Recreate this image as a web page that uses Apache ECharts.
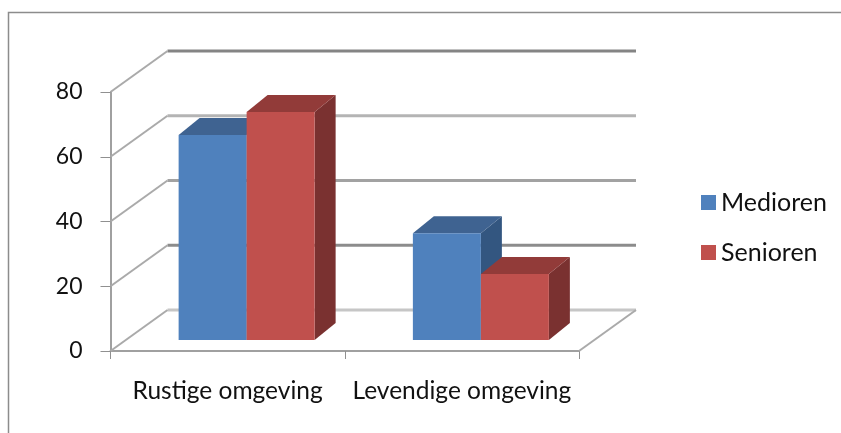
<!DOCTYPE html>
<html><head><meta charset="utf-8">
<style>html,body{margin:0;padding:0;background:#fff}#c{width:841px;height:433px}</style>
<script src="https://cdn.jsdelivr.net/npm/echarts@6/dist/echarts.min.js"></script>
</head><body><div id="c"></div>
<script>
const categories = ['Rustige omgeving', 'Levendige omgeving'];
const medioren = [63.3, 33];
const senioren = [70.4, 20.4];
const ticks = [0, 20, 40, 60, 80];
const wallColors = ['#c6c6c6', '#8c8c8c', '#a2a2a2', '#b4b4b4', '#848484'];

const FONT = 'Lato';
const DEPTH_X = 57, DEPTH_Y = 41;      // back wall offset
const BAR_W = 68, BAR_SHIFT = 19, BAR_LIFT = 11, SIDE_X = 21, SIDE_Y = 17;

function barSeries(name, values, order, front, top, side) {
  return {
    name, type: 'custom', coordinateSystem: 'cartesian2d', z: 3 + order,
    itemStyle: { color: front },
    encode: { x: 0, y: 1 },
    data: values.map((v, i) => [i, v]),
    renderItem(params, api) {
      const c = api.coord([api.value(0), api.value(1)]);
      const b = api.coord([api.value(0), 0]);
      const x0 = c[0] + BAR_SHIFT + (order - 1) * BAR_W;
      const x1 = x0 + BAR_W;
      const yt = c[1] - BAR_LIFT, yb = b[1] - BAR_LIFT;
      const poly = (points, fill) => ({ type: 'polygon', shape: { points }, style: { fill, stroke: null } });
      return { type: 'group', children: [
        poly([[x1, yt], [x1 + SIDE_X, yt - SIDE_Y], [x1 + SIDE_X, yb - SIDE_Y], [x1, yb]], side),
        poly([[x0, yt], [x0 + SIDE_X, yt - SIDE_Y], [x1 + SIDE_X, yt - SIDE_Y], [x1, yt]], top),
        poly([[x0, yt], [x1, yt], [x1, yb], [x0, yb]], front)
      ] };
    }
  };
}

const wallSeries = {
  name: 'wall', type: 'custom', coordinateSystem: 'cartesian2d', z: 1, silent: true,
  encode: { x: 0, y: 1 },
  data: ticks.map((t, i) => [0, t, i]),
  renderItem(params, api) {
    const g = params.coordSys;
    const y = api.coord([0, api.value(1)])[1];
    const col = wallColors[api.value(2)];
    const line = (x1, y1, x2, y2, stroke, lineWidth) => ({ type: 'line', shape: { x1, y1, x2, y2 }, style: { stroke, lineWidth } });
    const children = [
      line(g.x + DEPTH_X, y - DEPTH_Y, g.x + g.width + DEPTH_X, y - DEPTH_Y, col, 3),
      line(g.x, y, g.x + DEPTH_X, y - DEPTH_Y, '#aaaaaa', 2)
    ];
    if (api.value(1) === 0) {
      children.push(line(g.x + g.width, y, g.x + g.width + DEPTH_X, y - DEPTH_Y, '#aaaaaa', 2));
    }
    return { type: 'group', children };
  }
};

const chart = echarts.init(document.getElementById('c'), null, { renderer: 'canvas' });
chart.setOption({
  animation: false,
  backgroundColor: '#fff',
  textStyle: { fontFamily: FONT },
  grid: { left: 110.5, right: 262, top: 92, bottom: 82, containLabel: false },
  xAxis: {
    type: 'category', data: categories,
    axisLine: { show: true, lineStyle: { color: '#a0a0a0', width: 2 } },
    axisTick: { show: true, alignWithLabel: false, length: 8, lineStyle: { color: '#909090', width: 1 } },
    axisLabel: { color: '#111', fontFamily: FONT, fontSize: 24.5, margin: 28, interval: 0 },
    splitLine: { show: false }
  },
  yAxis: {
    type: 'value', min: 0, max: 80, interval: 20,
    axisLine: { show: true, lineStyle: { color: '#a0a0a0', width: 2 } },
    axisTick: { show: true, length: 10, lineStyle: { color: '#909090', width: 1 } },
    axisLabel: { color: '#111', fontFamily: FONT, fontSize: 23, margin: 28 },
    splitLine: { show: false }
  },
  legend: {
    orient: 'vertical', left: 696, top: 185, itemWidth: 15, itemHeight: 15, itemGap: 25,
    icon: 'rect', data: ['Medioren', 'Senioren'],
    textStyle: { color: '#111', fontFamily: FONT, fontSize: 25 }
  },
  graphic: [
    { type: 'polyline', z: 0, shape: { points: [[8.5, 433], [8.5, 12.5], [841, 12.5]] }, style: { stroke: '#8c8c8c', lineWidth: 1.5, fill: null } }
  ],
  series: [
    wallSeries,
    barSeries('Medioren', medioren, 0, '#4F81BD', '#3F6391', '#335680'),
    barSeries('Senioren', senioren, 1, '#C0504D', '#923B39', '#7A3130')
  ]
});
</script></body></html>
